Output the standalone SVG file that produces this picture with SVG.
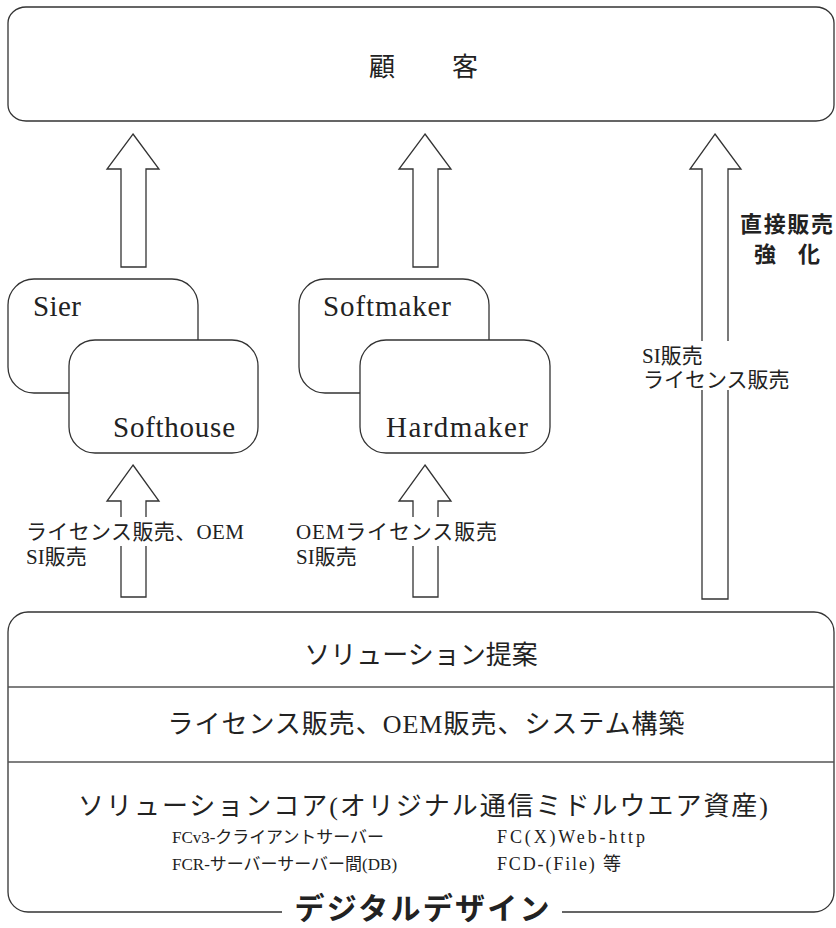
<svg xmlns="http://www.w3.org/2000/svg" width="836" height="928" viewBox="0 0 836 928">
<style>
.box{fill:#fff;stroke:#333;stroke-width:1.3}
.arrow{fill:#fff;stroke:#333;stroke-width:1.3;stroke-linejoin:miter}
.sep{stroke:#555;stroke-width:1.5;fill:none}
.t{font-family:"Liberation Serif","Noto Sans CJK JP",serif;fill:#222}
.b{font-family:"Noto Sans CJK JP","Liberation Sans",sans-serif;font-weight:bold;fill:#222}
.bg{fill:#fff;stroke:none}
</style>
<rect width="836" height="928" fill="#fff"/>

<g id="customer">
<rect class="box" x="8" y="7" width="826" height="114" rx="18" ry="16"/>
<text class="t" x="369" y="76" font-size="26" letter-spacing="15.5">顧　客</text>
</g>

<g id="connectors">
<polygon class="arrow" points="133,134 159,169 146,169 146,267 121,267 121,169 107,169"/>
<polygon class="arrow" points="425,134 451,169 438,169 438,267 413,267 413,169 399,169"/>
<polygon class="arrow" points="715,134 741,169 728,169 728,599 702,599 702,169 690,169"/>
<polygon class="arrow" points="133,465 159,501 146,501 146,597 121,597 121,501 107,501"/>
<polygon class="arrow" points="425,465 451,501 438,501 438,597 413,597 413,501 399,501"/>
<rect class="bg" x="24" y="517" width="224" height="29"/>
<rect class="bg" x="294" y="517" width="206" height="29"/>
<rect class="bg" x="640" y="341" width="152" height="49"/>
<text class="t" x="26" y="539" font-size="21" textLength="218">ライセンス販売、OEM</text>
<text class="t" x="26" y="564" font-size="21">SI販売</text>
<text class="t" x="296" y="539" font-size="21" textLength="201">OEMライセンス販売</text>
<text class="t" x="296" y="564" font-size="21">SI販売</text>
<text class="t" x="642" y="363" font-size="21">SI販売</text>
<text class="t" x="643" y="387" font-size="21">ライセンス販売</text>
<text class="b" x="740" y="232" font-size="22" textLength="93">直接販売</text>
<text class="b" x="787" y="262" font-size="22" text-anchor="middle">強　化</text>
</g>

<g id="sier">
<rect class="box" x="8" y="279" width="190" height="114" rx="26"/>
<text class="t" x="33" y="316" font-size="29" textLength="48">Sier</text>
</g>
<g id="softhouse">
<rect class="box" x="69" y="340" width="189" height="113" rx="26"/>
<text class="t" x="113" y="437" font-size="29" textLength="122">Softhouse</text>
</g>
<g id="softmaker">
<rect class="box" x="299" y="279" width="190" height="114" rx="26"/>
<text class="t" x="323" y="316" font-size="29" textLength="128">Softmaker</text>
</g>
<g id="hardmaker">
<rect class="box" x="360" y="340" width="190" height="113" rx="26"/>
<text class="t" x="386" y="437" font-size="29" textLength="142">Hardmaker</text>
</g>

<g id="digital-design">
<path class="box" style="fill:none" d="M282 912 H28 A20 20 0 0 1 8 892 V632 A20 20 0 0 1 28 612 H814 A20 20 0 0 1 834 632 V892 A20 20 0 0 1 814 912 H562"/>
<line class="sep" x1="8" y1="687" x2="834" y2="687"/>
<line class="sep" x1="8" y1="762" x2="834" y2="762"/>
<text class="t" x="421" y="664" font-size="26" text-anchor="middle">ソリューション提案</text>
<text class="t" x="426" y="733" font-size="26" text-anchor="middle" textLength="517">ライセンス販売、OEM販売、システム構築</text>
<text class="t" x="78" y="815" font-size="26" textLength="690">ソリューションコア(オリジナル通信ミドルウエア資産)</text>
<text class="t" x="172" y="843" font-size="17" textLength="212">FCv3-クライアントサーバー</text>
<text class="t" x="172" y="870" font-size="17">FCR-サーバーサーバー間(DB)</text>
<text class="t" x="497" y="843" font-size="18" textLength="148">FC(X)Web-http</text>
<text class="t" x="497" y="870" font-size="18" textLength="124">FCD-(File) 等</text>
<text class="b" x="422" y="919" font-size="30" text-anchor="middle" textLength="255">デジタルデザイン</text>
</g>
</svg>
